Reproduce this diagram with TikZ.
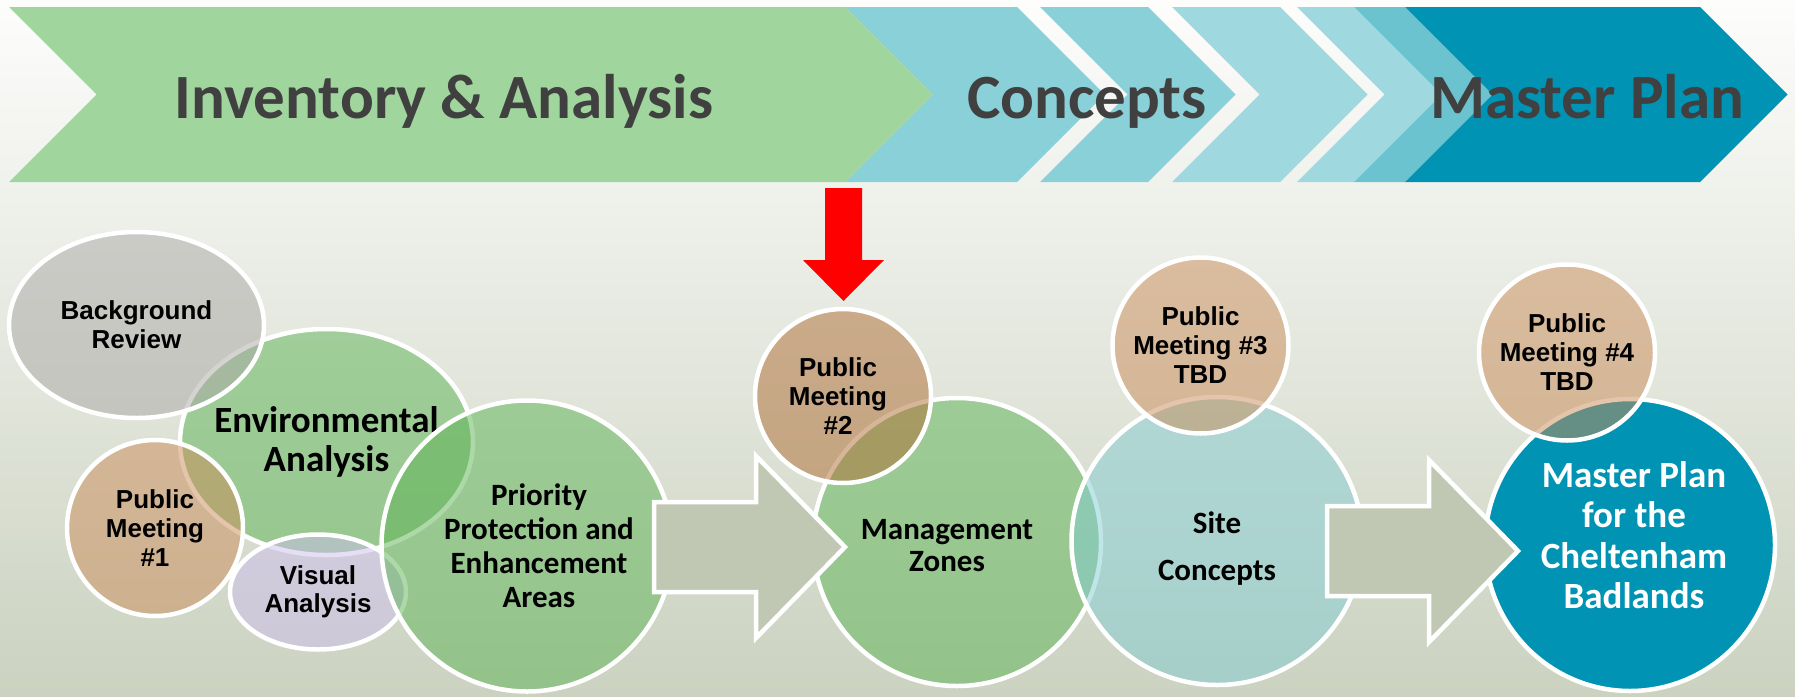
\documentclass[tikz,border=0pt]{standalone}
\usepackage{fontspec}
\usepackage{tikz}
\usetikzlibrary{shapes.geometric}
\setmainfont{Liberation Sans}
\newfontfamily\carlito{Carlito}

\definecolor{bgtop}{RGB}{253,253,252}
\definecolor{bgbot}{RGB}{203,210,192}
\definecolor{bandgreen}{RGB}{160,213,157}
\definecolor{bandblue}{RGB}{137,208,216}
\definecolor{bandlight}{RGB}{160,216,224}
\definecolor{bandmid}{RGB}{108,195,208}
\definecolor{banddark}{RGB}{0,147,179}
\definecolor{titlegrey}{RGB}{64,64,64}
\definecolor{envgreen}{RGB}{92,180,84}
\definecolor{revgrey}{RGB}{170,168,166}
\definecolor{meettan}{RGB}{203,140,88}
\definecolor{meetdark}{RGB}{175,108,50}
\definecolor{vislilac}{RGB}{204,190,237}
\definecolor{siteblue}{RGB}{130,204,210}
\definecolor{arrowgrey}{RGB}{192,200,180}

\begin{document}
\begin{tikzpicture}
	 [x=1pt,y=-1pt,
	  bubble/.style={ellipse,draw=white,line width=4.5pt,fill opacity=0.5,draw opacity=1,inner sep=0pt},
	  meetbubble/.style={bubble,fill=meettan,minimum width=176pt,minimum height=176pt},
	  atext/.style 2 args={font=\bfseries\fontsize{#1}{#2}\selectfont,align=center,text=black},
	  ctext/.style 2 args={font=\carlito\bfseries\fontsize{#1}{#2}\selectfont,align=center,text=black},
	  chevtext/.style={font=\carlito\bfseries\fontsize{63}{70}\selectfont,text=titlegrey,anchor=base},
	  blockarrow/.style={fill=arrowgrey,draw=white,line width=4.5pt,line join=miter}]

	\shade[top color=bgtop,bottom color=bgbot] (0,0) rectangle (1795,696);
	\useasboundingbox (0,0) rectangle (1795,696);

	\foreach \xa/\xb/\col in {845/1017/bandblue,1040/1148/bandblue,1172/1280/bandlight,1297/1354/bandlight,1354/1405/bandmid,1405/1700/banddark}
	  \fill[\col] (\xa,7) -- (\xb,7) -- (\xb+87.5,94.5) -- (\xb,182) -- (\xa,182) -- (\xa+87.5,94.5) -- cycle;
	\fill[bandgreen] (9,7) -- (845,7) -- (932.5,94.5) -- (845,182) -- (9,182) -- (96.5,94.5) -- cycle;

	\node (inv)[chevtext] at (444,118) {Inventory \& Analysis};
	\node (conc)[chevtext] at (1087,118) {Concepts};
	\node (plan)[chevtext] at (1587,118) {Master Plan};

	\fill[red] (825,188) -- (862,188) -- (862,260) -- (884,260) -- (843.5,301) -- (803,260) -- (825,260) -- cycle;

	  \node (env)[bubble,fill=envgreen,minimum width=293pt,minimum height=226pt] at (326.5,442) {};
	  \node (envtxt)[ctext={37}{39}] at (env) {Environmental\\Analysis};
	  \node (rev)[bubble,fill=revgrey,minimum width=255pt,minimum height=186pt] at (136.5,325) {};
	  \node (revtxt)[atext={26}{29}] at (rev) {Background\\Review};
	  \node (pm1)[meetbubble] at (155,528) {};
	  \node (pm1txt)[atext={26}{29}] at (pm1) {Public\\Meeting\\\#1};
	  \node (vis)[bubble,fill=vislilac,minimum width=176pt,minimum height=115pt] at (318,592) {};
	  \node (vistxt)[atext={26}{28}] at (vis) {Visual\\Analysis};
	  \node (prio)[bubble,fill=envgreen,minimum width=291pt,minimum height=291pt] at (527,546) {};
	  \node (priotxt)[ctext={31}{34}] at ([xshift=12pt]prio) {Priority\\Protection and\\Enhancement\\Areas};

	  \node (mgmt)[bubble,fill=envgreen,minimum width=288pt,minimum height=288pt] at (957,542) {};
	  \node (mgmttxt)[ctext={31}{32}] at ([xshift=-10pt,yshift=-4pt]mgmt) {Management\\Zones};
	  \node (pm2)[meetbubble,fill=meetdark,minimum height=174pt] at (843,396) {};
	  \node (pm2txt)[atext={26}{29}] at ([xshift=-5pt]pm2) {Public\\Meeting\\\#2};

	  \node (site)[bubble,fill=siteblue,minimum width=291pt,minimum height=288pt] at (1217,541) {};
	  \node (sitetxt)[ctext={31}{47}] at ([yshift=-8pt]site) {Site\\Concepts};
	  \node (pm3)[meetbubble] at (1200.5,345.5) {};
	  \node (pm3txt)[atext={26}{29}] at (pm3) {Public\\Meeting \#3\\TBD};

	  \node (mp)[bubble,fill=banddark,fill opacity=1,minimum width=290pt,minimum height=292pt] at (1630,545) {};
	  \node (mptxt)[ctext={37}{40.5},text=white] at ([xshift=4pt,yshift=10pt]mp) {Master Plan\\for the\\Cheltenham\\Badlands};
	  \node (pm4)[meetbubble] at (1567,352.5) {};
	  \node (pm4txt)[atext={26}{29}] at (pm4) {Public\\Meeting \#4\\TBD};

	\foreach \xs/\ym in {654/547,1327/551}
	\draw[blockarrow] (\xs,\ym-45) -- ++(102,0) -- ++(0,-46) -- ++(89,91) -- ++(-89,91) -- ++(0,-46) -- ++(-102,0) -- cycle;

\end{tikzpicture}
\end{document}
